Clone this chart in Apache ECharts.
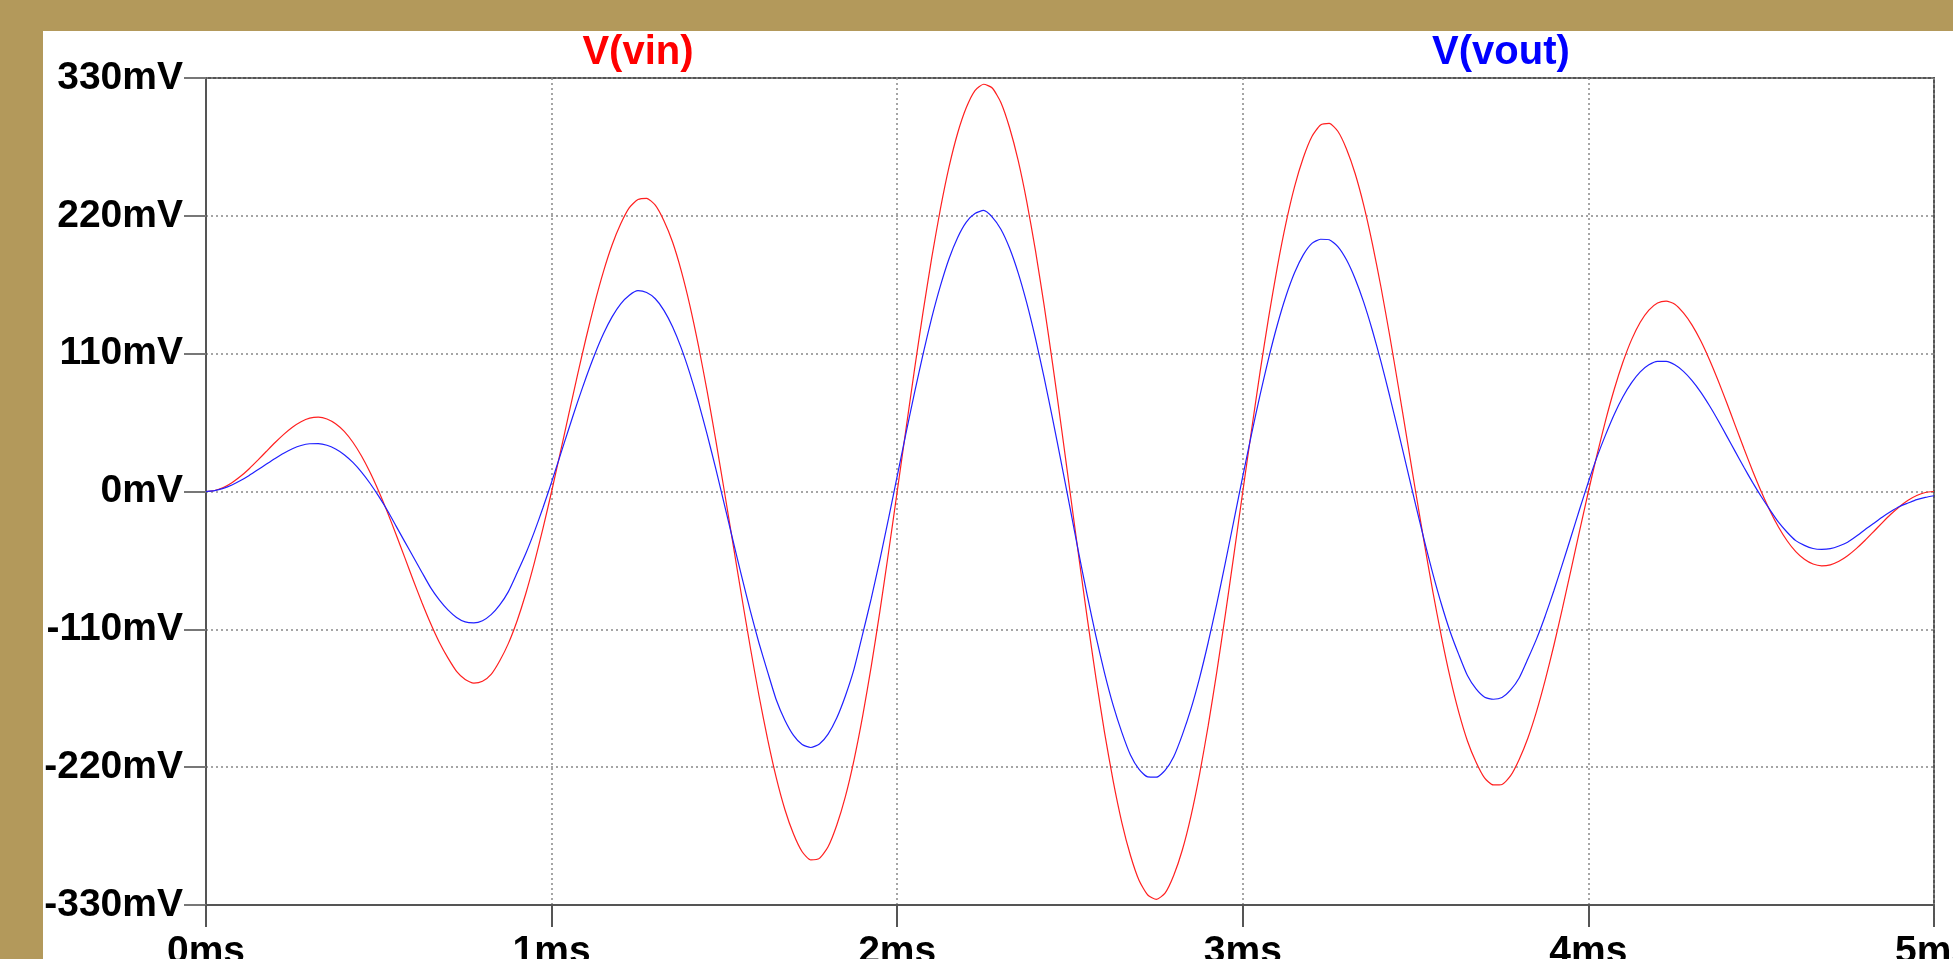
<!DOCTYPE html>
<html><head><meta charset="utf-8">
<script src="https://cdn.jsdelivr.net/npm/echarts@6/dist/echarts.min.js"></script>
<style>
html,body{margin:0;padding:0;width:1953px;height:959px;overflow:hidden;background:#B3995B;}
#paper{position:absolute;left:43px;top:31px;right:0;bottom:0;background:#ffffff;}
#chart{position:absolute;left:0;top:0;width:1953px;height:959px;}
</style></head><body>
<div id="paper"></div><div id="chart"></div>
<script>
// time in ms
const timeMs = [
 0,0.025,0.05,0.075,0.1,0.125,0.15,0.175,0.2,0.225,0.25,0.275,0.3,0.325,0.35,0.375,0.4,0.425,0.45,0.475,
 0.5,0.525,0.55,0.575,0.6,0.625,0.65,0.675,0.7,0.725,0.75,0.775,0.8,0.825,0.85,0.875,0.9,0.925,0.95,0.975,
 1,1.025,1.05,1.075,1.1,1.125,1.15,1.175,1.2,1.225,1.25,1.275,1.3,1.325,1.35,1.375,1.4,1.425,1.45,1.475,
 1.5,1.525,1.55,1.575,1.6,1.625,1.65,1.675,1.7,1.725,1.75,1.775,1.8,1.825,1.85,1.875,1.9,1.925,1.95,1.975,
 2,2.025,2.05,2.075,2.1,2.125,2.15,2.175,2.2,2.225,2.25,2.275,2.3,2.325,2.35,2.375,2.4,2.425,2.45,2.475,
 2.5,2.525,2.55,2.575,2.6,2.625,2.65,2.675,2.7,2.725,2.75,2.775,2.8,2.825,2.85,2.875,2.9,2.925,2.95,2.975,
 3,3.025,3.05,3.075,3.1,3.125,3.15,3.175,3.2,3.225,3.25,3.275,3.3,3.325,3.35,3.375,3.4,3.425,3.45,3.475,
 3.5,3.525,3.55,3.575,3.6,3.625,3.65,3.675,3.7,3.725,3.75,3.775,3.8,3.825,3.85,3.875,3.9,3.925,3.95,3.975,
 4,4.025,4.05,4.075,4.1,4.125,4.15,4.175,4.2,4.225,4.25,4.275,4.3,4.325,4.35,4.375,4.4,4.425,4.45,4.475,
 4.5,4.525,4.55,4.575,4.6,4.625,4.65,4.675,4.7,4.725,4.75,4.775,4.8,4.825,4.85,4.875,4.9,4.925,4.95,4.975,
 5
];
// V(vin) in mV
const vin = [
 0,0.8,3.2,7.0,12.1,18.2,25.0,32.1,39.1,45.6,51.3,55.7,58.5,59.3,57.9,54.1,48.0,39.3,28.3,15.1,
 0,-16.6,-34.3,-52.6,-71.0,-88.8,-105.4,-120.3,-132.8,-143.5,-150.0,-153.0,-151.5,-146.0,-135.1,-121.2,-103.3,-81.8,-57.0,-29.5,
 0,30.8,62.1,93.1,122.9,150.6,175.5,196.7,213.6,226.5,233.0,234.0,228.5,216.1,199.1,176.3,148.6,116.2,80.1,41.0,
 0,-42.0,-83.8,-124.5,-162.8,-197.7,-228.4,-253.8,-273.4,-287.5,-294.0,-292.8,-283.5,-266.3,-243.5,-214.3,-179.3,-139.3,-95.4,-48.5,
 0,49.0,97.3,143.6,186.7,225.5,259.0,286.1,306.4,320.0,325.0,322.0,310.5,290.5,264.2,231.2,192.4,148.7,101.3,51.3,
 0,-51.3,-101.3,-148.7,-192.4,-231.2,-264.2,-290.5,-310.5,-322.0,-325.5,-320.5,-306.4,-286.1,-259.0,-225.5,-186.7,-143.6,-97.3,-49.0,
 0,48.5,95.4,139.3,179.3,214.3,243.5,266.3,283.3,292.5,293.8,287.5,273.4,253.8,228.4,197.7,162.8,124.5,83.8,42.0,
 0,-41.0,-80.1,-116.2,-148.6,-176.3,-199.1,-216.1,-228.8,-234.2,-233.8,-226.8,-213.6,-196.7,-175.5,-150.6,-122.9,-93.1,-62.1,-30.8,
 0,29.5,57.0,81.8,103.3,121.2,135.1,144.8,150.5,152.0,149.5,142.5,132.8,120.3,105.4,88.8,71.0,52.6,34.3,16.6,
 0,-15.1,-28.3,-39.3,-48.0,-54.1,-57.9,-59.3,-58.5,-55.7,-51.3,-45.6,-39.1,-32.1,-25.0,-18.2,-12.1,-7.0,-3.2,-0.8,
 0
];
// V(vout) in mV
const vout = [
 0,0.7,2.5,5.2,8.7,12.8,17.3,21.9,26.4,30.6,34.1,36.7,38.1,38.2,36.9,33.9,29.4,23.2,15.5,6.4,
 -3.9,-15.2,-27.6,-40.0,-52.3,-64.6,-76.7,-86.5,-94.5,-100.5,-104.1,-104.8,-103.1,-98.3,-90.5,-79.9,-65.1,-49.7,-32.2,-13.0,
 7.5,28.8,50.3,71.3,91.2,109.6,125.9,139.4,149.8,156.7,160.3,158.8,153.8,144.6,131.5,114.6,94.3,71.2,45.6,18.2,
 -10.4,-39.3,-67.8,-95.3,-120.9,-143.9,-166.2,-182.5,-194.6,-201.9,-204.3,-201.5,-193.6,-180.8,-163.2,-141.8,-113.8,-85.3,-54.3,-21.5,
 12.2,45.9,78.7,109.9,138.7,164.1,185.8,202.8,215.0,221.8,224.3,219.0,209.3,194.3,174.5,150.3,122.2,91.1,57.6,22.7,
 -12.8,-48.7,-83.1,-115.5,-144.9,-170.7,-192.2,-210.3,-221.8,-227.8,-228.0,-222.6,-211.7,-194.2,-173.5,-148.7,-120.3,-89.2,-56.2,-22.0,
 12.2,45.4,77.2,106.6,133.1,156.0,174.7,188.8,198.0,201.3,200.9,195.5,184.9,169.8,150.9,128.5,103.4,76.2,47.7,18.6,
 -10.5,-38.9,-65.7,-90.2,-111.9,-130.2,-146.9,-157.6,-164.2,-165.8,-164.4,-158.4,-148.6,-133.5,-117.6,-99.3,-79.2,-57.8,-35.9,-13.8,
 7.6,27.6,45.4,61.7,75.6,86.9,95.5,101.1,103.9,103.8,101.1,95.9,88.5,79.3,68.6,56.9,44.4,31.8,19.3,7.3,
 -4.0,-14.5,-24.5,-32.5,-39.2,-43.0,-45.5,-46.2,-45.6,-43.5,-40.5,-35.8,-30.5,-25.5,-20.5,-16.0,-12.0,-9.2,-6.5,-4.7,
 -3.4
];
const xTicks = [0,1,2,3,4,5];
const yTicks = [-330,-220,-110,0,110,220,330];
const seriesNames = ['V(vin)','V(vout)'];

const FONT = 'Liberation Sans, Arial, sans-serif';
const chart = echarts.init(document.getElementById('chart'), null, {renderer:'canvas'});
const labelStyle = {fontFamily:FONT, fontWeight:'bold', fontSize:39, color:'#000'};
chart.setOption({
  animation:false,
  backgroundColor:'transparent',
  grid:{left:206, top:78, right:19, bottom:54, containLabel:false, outerBoundsMode:'none',
        show:true, borderColor:'#555', borderWidth:2, backgroundColor:'transparent'},
  xAxis:{type:'value', min:xTicks[0], max:xTicks[xTicks.length-1], interval:xTicks[1]-xTicks[0],
    axisLine:{show:true, onZero:false, lineStyle:{color:'#555', width:2}},
    axisTick:{show:true, length:22, lineStyle:{color:'#555', width:2}},
    axisLabel:Object.assign({margin:28, showMinLabel:true, showMaxLabel:true, formatter:v=>v+'ms'}, labelStyle),
    splitLine:{show:true, lineStyle:{color:'#888', type:[2,3], width:1.5}}},
  yAxis:{type:'value', min:yTicks[0], max:yTicks[yTicks.length-1], interval:yTicks[1]-yTicks[0],
    axisLine:{show:true, lineStyle:{color:'#555', width:2}},
    axisTick:{show:true, length:22, lineStyle:{color:'#777', width:2}},
    axisLabel:Object.assign({margin:23, showMinLabel:true, showMaxLabel:true, formatter:v=>v+'mV'}, labelStyle),
    splitLine:{show:true, lineStyle:{color:'#888', type:[2,3], width:1.5}}},
  graphic:[
    {type:'text', x:638, y:53, style:{text:seriesNames[0], fill:'#ff0000', fontFamily:FONT, fontWeight:'bold', fontSize:40, align:'center', verticalAlign:'middle'}},
    {type:'text', x:1501, y:53, style:{text:seriesNames[1], fill:'#0000ff', fontFamily:FONT, fontWeight:'bold', fontSize:40, align:'center', verticalAlign:'middle'}}
  ],
  series:[
    {name:seriesNames[0], type:'line', smooth:0.2, showSymbol:false, data:timeMs.map((t,i)=>[t,vin[i]]),
     lineStyle:{color:'#ff2020', width:1.2}, itemStyle:{color:'#ff0000'}},
    {name:seriesNames[1], type:'line', smooth:0.2, showSymbol:false, data:timeMs.map((t,i)=>[t,vout[i]]),
     lineStyle:{color:'#2020ff', width:1.2}, itemStyle:{color:'#0000ff'}}
  ]
});
</script></body></html>
